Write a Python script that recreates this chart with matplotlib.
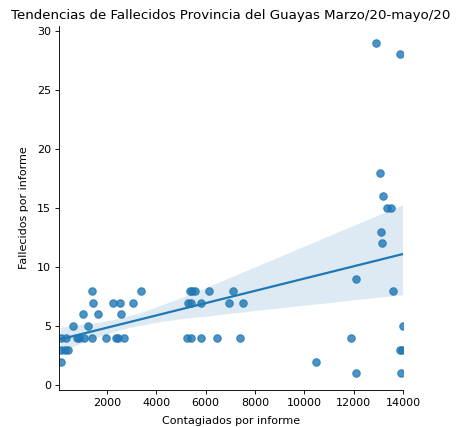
import matplotlib
matplotlib.use('Agg')
import matplotlib.pyplot as plt
import numpy as np
import pandas as pd
import seaborn as sns

# contagiados / fallecidos por informe
contagiados = [
    140,
    150, 300, 430,
    150, 320, 770, 866, 1080, 1380, 1960, 2365, 2460, 2700,
    5250, 5420, 5795, 6450, 7380, 11900,
    635, 1243, 14000,
    1015, 1648, 2567,
    1420, 2230, 2527, 3066, 5300, 5420, 5795, 6940, 7520,
    1380, 3390, 5360, 5460, 5560, 6143, 7120, 13600,
    12085,
    13150, 13100, 13350, 13500, 13190, 13085,
    12920, 13866,
    10480,
    12085, 13930,
    13870, 13950,
]
fallecidos = [
    2,
    3, 3, 3,
    4, 4, 4, 4, 4, 4, 4, 4, 4, 4,
    4, 4, 4, 4, 4, 4,
    5, 5, 5,
    6, 6, 6,
    7, 7, 7, 7, 7, 7, 7, 7, 7,
    8, 8, 8, 8, 8, 8, 8, 8,
    9,
    12, 13, 15, 15, 16, 18,
    29, 28,
    2,
    1, 1,
    3, 3,
]

titulo = 'Tendencias de Fallecidos Provincia del Guayas Marzo/20-mayo/20'


def main():
    df = pd.DataFrame({'Contagiados': contagiados, 'Fallecidos': fallecidos})

    dpi = 80
    fig = plt.figure(figsize=(457 / dpi, 427 / dpi), dpi=dpi)
    ax = fig.add_axes([59 / 457, 37 / 427, 344 / 457, 364 / 427])

    sns.regplot(data=df, x='Contagiados', y='Fallecidos', ax=ax,
                color='#1f77b4', seed=0,
                scatter_kws={'s': 45, 'alpha': 0.8},
                line_kws={'linewidth': 2})

    ax.set_xlim(50, 14000)
    ax.set_ylim(-0.4, 30.4)
    ax.set_xticks([2000, 4000, 6000, 8000, 10000, 12000, 14000])
    ax.set_yticks([0, 5, 10, 15, 20, 25, 30])
    ax.set_xlabel('Contagiados por informe', labelpad=7)
    ax.set_ylabel('Fallecidos por informe', labelpad=7)
    ax.set_title(titulo, fontsize=12)
    for side in ['top', 'right']:
        ax.spines[side].set_visible(False)

    fig.savefig('out.png', dpi=dpi)


if __name__ == '__main__':
    main()
